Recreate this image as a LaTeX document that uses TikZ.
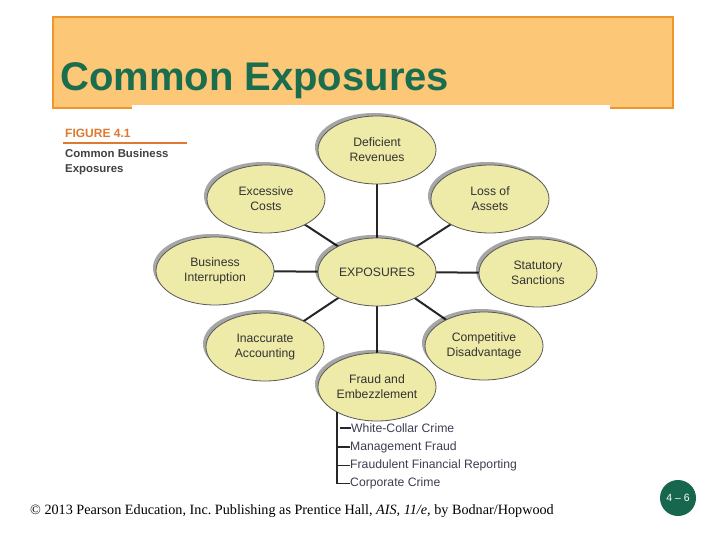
\documentclass[tikz,border=0pt]{standalone}
\usepackage{fontspec}
\setmainfont{Liberation Serif}
\newfontfamily\arial{Liberation Sans}
\usetikzlibrary{shapes.geometric,shadows,backgrounds}
\definecolor{hdrfill}{HTML}{FCC777}
\definecolor{hdrline}{HTML}{F0962A}
\definecolor{titlegreen}{HTML}{1A6E4E}
\definecolor{badgegreen}{HTML}{17674F}
\definecolor{bubfill}{HTML}{EEEAA8}
\definecolor{bubtext}{HTML}{333333}
\definecolor{figorange}{HTML}{DD7A30}
\definecolor{listtext}{HTML}{3E3E50}
\tikzset{
  bub/.style={ellipse, draw=black!65, line width=0.8pt, fill=bubfill,
    minimum width=118pt, minimum height=68pt, inner sep=0pt, align=center,
    font=\arial\fontsize{12.2}{15}\selectfont, text=bubtext,
    drop shadow={shadow xshift=-3pt, shadow yshift=3pt, fill=black, opacity=0.35}},
  conn/.style={line width=2pt, black!85},
  listitem/.style={anchor=west, inner sep=0pt, font=\arial\fontsize{12.2}{14}\selectfont, text=listtext},
  tick/.style={line width=1.8pt, black!85}
}
\frenchspacing
\begin{document}
\begin{tikzpicture}[x=1pt,y=-1pt]
\useasboundingbox (0,0) rectangle (720,540);
% header
\node[draw=hdrline, line width=2pt, fill=hdrfill, minimum width=620pt, minimum height=91pt, inner sep=0pt] (hdr) at (363,62.5) {};
\fill[white] (132,105) rectangle (610,112);
\node[anchor=base west, inner sep=0pt, font=\arial\bfseries\fontsize{40}{44}\selectfont, text=titlegreen] (title) at (60,91) {Common Exposures};
% figure caption
\node[anchor=base west, inner sep=0pt, font=\arial\bfseries\fontsize{12}{14}\selectfont, text=figorange] (fig) at (65,138) {FIGURE 4.1};
\draw[figorange, line width=2pt] (63,143.5) coordinate (ul1) -- (187,143.5) coordinate (ul2);
\node[anchor=north west, inner sep=0pt, align=left, font=\arial\bfseries\fontsize{11.4}{15}\selectfont, text=black!75] (cap) at (65,149) {Common Business\\Exposures};
% bubbles
\node[bub] (dr) at (377,150) {Deficient\\Revenues};
\node[bub] (ec) at (266,199) {Excessive\\Costs};
\node[bub] (la) at (490,199) {Loss of\\Assets};
\node[bub] (bi) at (215,271) {Business\\Interruption};
\node[bub] (ex) at (377,272) {EXPOSURES};
\node[bub] (ss) at (538,273) {Statutory\\Sanctions};
\node[bub] (ia) at (265,347) {Inaccurate\\Accounting};
\node[bub] (cd) at (484,346) {Competitive\\Disadvantage};
\node[bub] (fe) at (377,387) {Fraud and\\Embezzlement};
\begin{scope}[on background layer]
\fill[white] (0,0) rectangle (720,540);
\foreach \n in {dr,ec,la,bi,ss,ia,cd,fe} \draw[conn] (ex.center) -- (\n.center);
\end{scope}
% list
\node[listitem] (i1) at (351,428) {White-Collar Crime};
\node[listitem] (i2) at (350,447) {Management Fraud};
\node[listitem] (i3) at (350,465.5) {Fraudulent Financial Reporting};
\node[listitem] (i4) at (350,483.5) {Corporate Crime};
\coordinate (vt) at (337,412);
\draw[tick] (vt) -- (vt |- i4.west) -- (i4.west);
\draw[tick] (340,428) -- (i1.west);
\draw[tick] (vt |- i2.west) -- (i2.west);
\draw[tick] (vt |- i3.west) -- (i3.west);
% footer
\node[anchor=base west, inner sep=0pt, font=\fontsize{14.2}{16}\selectfont] (foot) at (30,514) {\textcopyright\ 2013 Pearson Education, Inc. Publishing as Prentice Hall, \textit{AIS, 11/e}, by Bodnar/Hopwood};
\node[circle, fill=badgegreen, minimum size=36pt, inner sep=0pt, text=white, font=\arial\fontsize{10.5}{12}\selectfont] (badge) at (678,498) {4 \textendash{} 6};
\end{tikzpicture}
\end{document}
